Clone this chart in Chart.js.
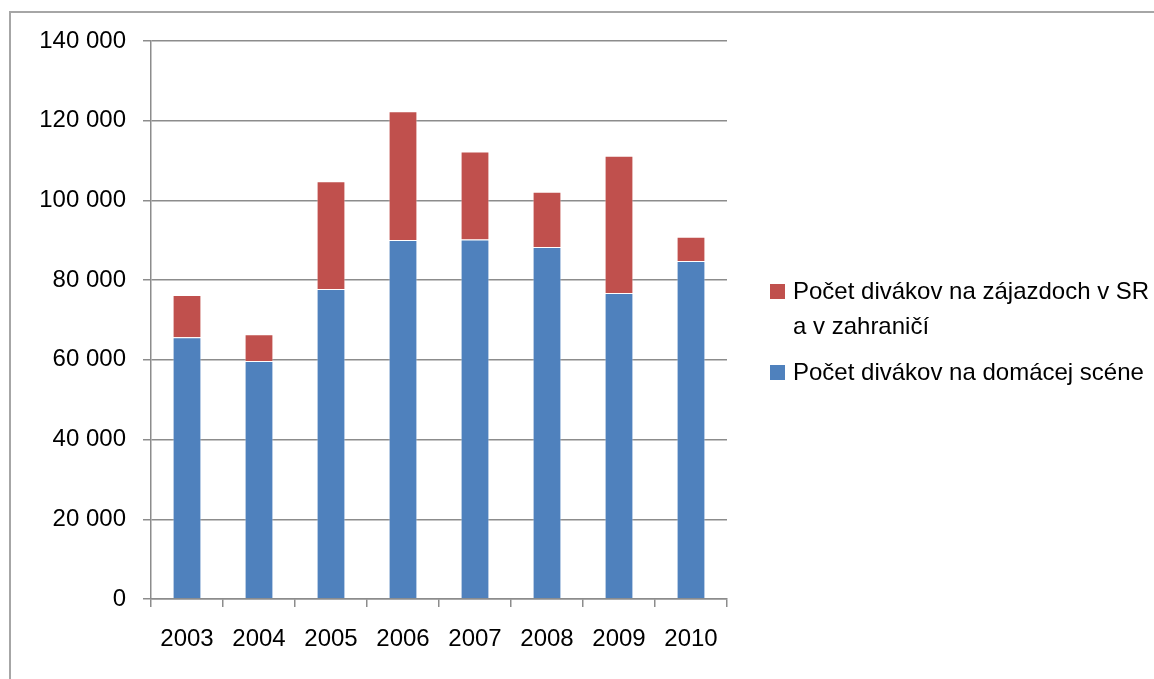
<!DOCTYPE html>
<html>
<head>
<meta charset="utf-8">
<script src="https://cdn.jsdelivr.net/npm/chart.js@4.4.1/dist/chart.umd.min.js"></script>
<style>
  html, body { margin: 0; padding: 0; background: #fff; overflow: hidden; }
  #frame { position: absolute; left: 9px; top: 11px; width: 1200px; height: 700px;
           border-left: 2px solid #a6a6a6; border-top: 2px solid #a6a6a6; }
  #wrap { position: absolute; left: 0; top: 0; width: 1154px; height: 679px; }
  #legend { position: absolute; left: 770px; top: 273px; font-family: "Liberation Sans", sans-serif;
            font-size: 24px; color: #000; }
  .item { position: relative; padding-left: 23px; line-height: 35px; margin-bottom: 11px; white-space: nowrap; }
  .sw { position: absolute; left: 0; top: 11px; width: 15px; height: 15px; }
</style>
</head>
<body>
<div id="frame"></div>
<div id="wrap"><canvas id="bar-chart"></canvas></div>
<div id="legend"></div>
<script>
var years = ["2003", "2004", "2005", "2006", "2007", "2008", "2009", "2010"];
var domestic = [65700, 59700, 77800, 90100, 90200, 88300, 76800, 84800];
var tours = [10600, 6700, 27000, 32300, 22100, 13900, 34400, 6100];
var labelDomestic = "Počet divákov na domácej scéne";
var labelTours = "Počet divákov na zájazdoch v SR a v zahraničí";
var yTicks = [0, 20000, 40000, 60000, 80000, 100000, 120000, 140000];

var axisColor = "#8c8c8c";
var font = { family: "Liberation Sans", size: 24 };

var chart = new Chart(document.getElementById("bar-chart"), {
    type: 'bar',
    data: {
        labels: years,
        datasets: [
            {
                label: labelDomestic,
                backgroundColor: "#4f81bd",
                borderColor: "rgba(255,255,255,0.45)",
                borderWidth: 1,
                data: domestic
            },
            {
                label: labelTours,
                backgroundColor: "#c0504d",
                borderColor: "rgba(255,255,255,0.45)",
                borderWidth: 1,
                data: tours
            }
        ]
    },
    options: {
        responsive: true,
        maintainAspectRatio: false,
        animation: false,
        categoryPercentage: 1,
        barPercentage: 0.4,
        layout: { padding: { left: 0, top: 41, right: 427, bottom: 0 } },
        plugins: {
            legend: { display: false },
            tooltip: { enabled: false }
        },
        scales: {
            x: {
                stacked: true,
                offset: true,
                grid: { offset: true, drawOnChartArea: false, color: axisColor, lineWidth: 1.5, tickLength: 8 },
                border: { color: axisColor, width: 1.5 },
                ticks: { color: "#000", font: font, padding: 18, maxRotation: 0 },
                afterFit: function (s) { s.height = 80; }
            },
            y: {
                stacked: true,
                min: 0,
                max: 140000,
                afterBuildTicks: function (s) { s.ticks = yTicks.map(function (v) { return { value: v }; }); },
                grid: { color: axisColor, lineWidth: 1.5, tickLength: 8 },
                border: { color: axisColor, width: 1.5 },
                ticks: {
                    color: "#000",
                    font: font,
                    padding: 17,
                    callback: function (v) { return String(v).replace(/\B(?=(\d{3})+(?!\d))/g, " "); }
                },
                afterFit: function (s) { s.width = 151; }
            }
        }
    }
});

// legend: reversed order like the original (top series first)
var legend = document.getElementById("legend");
chart.data.datasets.slice().reverse().forEach(function (ds) {
    var item = document.createElement("div");
    item.className = "item";
    var sw = document.createElement("span");
    sw.className = "sw";
    sw.style.background = ds.backgroundColor;
    item.appendChild(sw);
    var txt = ds.label === labelTours ? "Počet divákov na zájazdoch v SR<br>a v zahraničí" : ds.label;
    item.insertAdjacentHTML("beforeend", txt);
    legend.appendChild(item);
});
</script>
</body>
</html>
